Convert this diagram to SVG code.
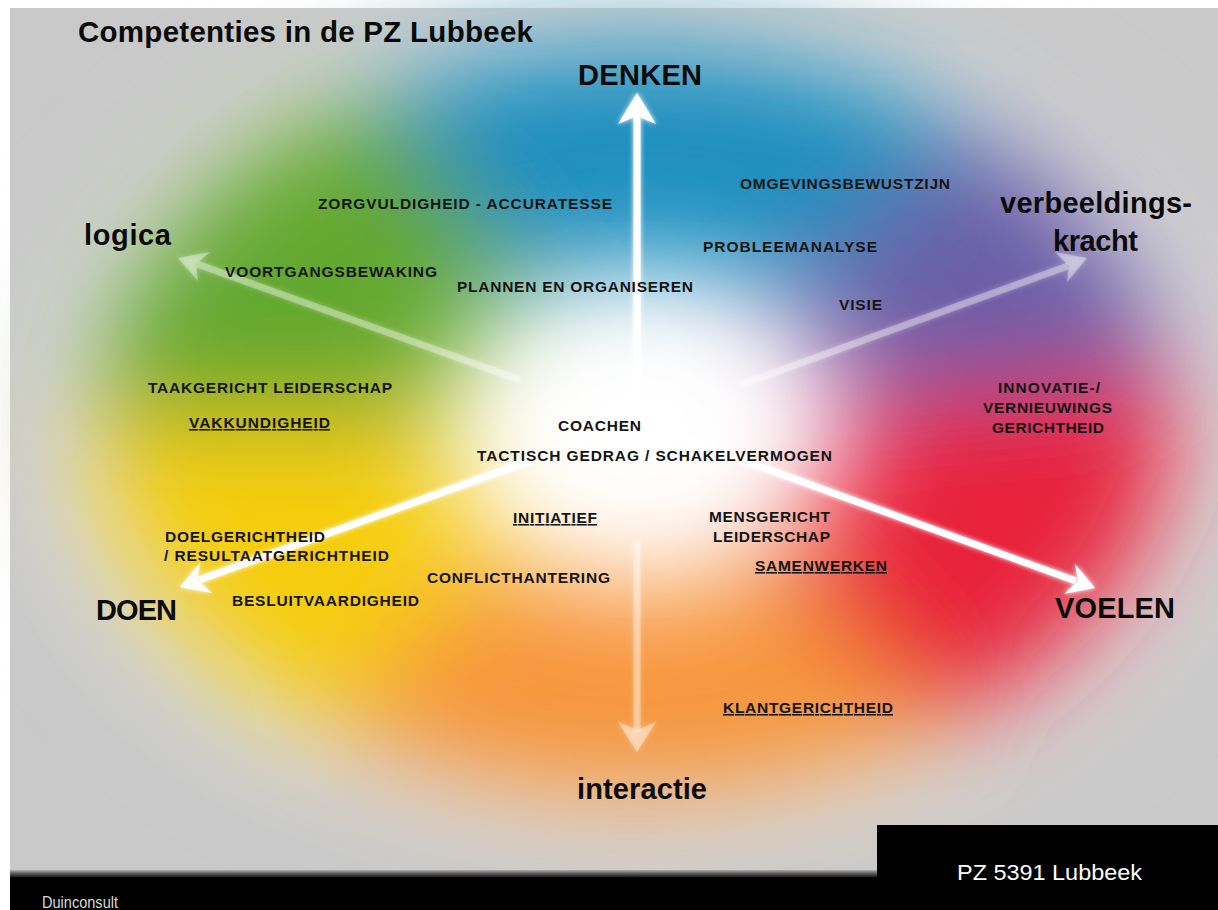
<svg xmlns="http://www.w3.org/2000/svg" width="1218" height="910" viewBox="0 0 1218 910">
<style>
.lbl{font-family:"Liberation Sans",Arial,sans-serif;font-weight:bold;font-size:15.5px;fill:#141414}
.u{text-decoration:underline}
.big{font-family:"Liberation Sans",Arial,sans-serif;font-weight:bold;font-size:29px;fill:#0a0a0a}
.shaft{stroke:#ffffff;stroke-width:7;fill:none}
</style>
<defs>
<filter id="blurBig" x="-30%" y="-30%" width="160%" height="160%"><feGaussianBlur stdDeviation="50"/></filter>
<filter id="blurCenter" x="-60%" y="-60%" width="220%" height="220%"><feGaussianBlur stdDeviation="60"/></filter>
<filter id="glow" x="-20%" y="-20%" width="140%" height="140%"><feGaussianBlur stdDeviation="2.5" result="b"/><feMerge><feMergeNode in="b"/><feMergeNode in="SourceGraphic"/></feMerge></filter>
<clipPath id="ell"><ellipse cx="635" cy="420" rx="540" ry="375"/></clipPath>
<linearGradient id="shadow" x1="0" y1="0" x2="0" y2="1"><stop offset="0" stop-color="#b0b0b0"/><stop offset="0.5" stop-color="#5a5a5a"/><stop offset="1" stop-color="#202020"/></linearGradient>
</defs>
<rect width="1218" height="910" fill="#ffffff"/>
<rect x="10" y="8" width="1208" height="866" fill="#c9c9c9"/>
<g id="wheel">
<ellipse cx="640" cy="425" rx="600" ry="415" fill="#dedede" filter="url(#blurBig)"/>
<g filter="url(#blurBig)">
<g clip-path="url(#ell)">
<path d="M635,420 L-265,420 L81,-289 Z" fill="#64a82e"/>
<path d="M635,420 L81,-289 L1325,-160 Z" fill="#1b8fbf"/>
<path d="M635,420 L1325,-160 L1530,340 Z" fill="#6a5fa8"/>
<path d="M635,420 L1530,340 L1271,1056 Z" fill="#e8213a"/>
<path d="M635,420 L1271,1056 L-1,1056 Z" fill="#f7953a"/>
<path d="M635,420 L-1,1056 L-265,420 Z" fill="#f6cd10"/>
</g>
</g>
<ellipse cx="645" cy="430" rx="200" ry="155" fill="#ffffff" filter="url(#blurCenter)"/>
<ellipse cx="640" cy="420" rx="130" ry="90" fill="#ffffff" filter="url(#blurCenter)"/>
</g>
<g id="connectors" filter="url(#glow)">
<line class="shaft" x1="637" y1="422" x2="637" y2="115"/>
<line class="shaft" x1="637" y1="422" x2="199" y2="580"/>
<line class="shaft" x1="637" y1="422" x2="1076" y2="581"/>
<g opacity="0.3">
<line class="shaft" x1="520" y1="380" x2="197" y2="264"/>
<line class="shaft" x1="740" y1="385" x2="1068" y2="266"/>
<line class="shaft" x1="637" y1="540" x2="637" y2="732"/>
</g>
</g>
<g id="arrowheads" filter="url(#glow)">
<path d="M637,93 L656,124 L637,116 L618,124 Z" fill="#ffffff"/>
<path d="M180,587 L200,563 L197,580 L212,593 Z" fill="#ffffff"/>
<path d="M1095,588 L1064,594 L1078,581 L1075,564 Z" fill="#ffffff"/>
<g opacity="0.35">
<path d="M178,258 L210,252 L196,264 L198,281 Z" fill="#ffffff"/>
<path d="M1087,258 L1067,282 L1069,266 L1055,252 Z" fill="#ffffff"/>
<path d="M637,752 L618,722 L637,730 L656,722 Z" fill="#ffffff"/>
</g>
</g>
<g id="title"><text x="78" y="42" font-family="Liberation Sans, Arial, sans-serif" font-weight="bold" font-size="29.5" fill="#0a0a0a" textLength="455">Competenties in de PZ Lubbeek</text></g>
<g id="n-denken"><text class="big" x="578" y="85" textLength="124">DENKEN</text></g>
<g id="n-logica"><text class="big" x="84" y="245" textLength="87">logica</text></g>
<g id="n-verbeelding"><text class="big" x="1000" y="213" textLength="192">verbeeldings-</text><text class="big" x="1053" y="251" textLength="85">kracht</text></g>
<g id="n-doen"><text class="big" x="96" y="620" textLength="81">DOEN</text></g>
<g id="n-voelen"><text class="big" x="1055" y="618" textLength="120">VOELEN</text></g>
<g id="n-interactie"><text class="big" x="577" y="799" textLength="130">interactie</text></g>
<g id="competencies">
<text class="lbl" x="318" y="209" textLength="294">ZORGVULDIGHEID - ACCURATESSE</text>
<text class="lbl" x="740" y="189" textLength="210">OMGEVINGSBEWUSTZIJN</text>
<text class="lbl" x="703" y="252" textLength="174">PROBLEEMANALYSE</text>
<text class="lbl" x="225" y="277" textLength="212">VOORTGANGSBEWAKING</text>
<text class="lbl" x="457" y="292" textLength="236">PLANNEN EN ORGANISEREN</text>
<text class="lbl" x="839" y="310" textLength="43">VISIE</text>
<text class="lbl" x="148" y="393" textLength="244">TAAKGERICHT LEIDERSCHAP</text>
<text class="lbl u" x="189" y="428" textLength="141">VAKKUNDIGHEID</text>
<text class="lbl" x="558" y="431" textLength="83">COACHEN</text>
<text class="lbl" x="477" y="461" textLength="355">TACTISCH GEDRAG / SCHAKELVERMOGEN</text>
<text class="lbl" x="998" y="393" textLength="102">INNOVATIE-/</text>
<text class="lbl" x="983" y="413" textLength="129">VERNIEUWINGS</text>
<text class="lbl" x="992" y="433" textLength="112">GERICHTHEID</text>
<text class="lbl u" x="513" y="523" textLength="84">INITIATIEF</text>
<text class="lbl" x="709" y="522" textLength="121">MENSGERICHT</text>
<text class="lbl" x="713" y="542" textLength="117">LEIDERSCHAP</text>
<text class="lbl u" x="755" y="571" textLength="132">SAMENWERKEN</text>
<text class="lbl" x="165" y="542" textLength="160">DOELGERICHTHEID</text>
<text class="lbl" x="164" y="561" textLength="225">/ RESULTAATGERICHTHEID</text>
<text class="lbl" x="427" y="583" textLength="183">CONFLICTHANTERING</text>
<text class="lbl" x="232" y="606" textLength="187">BESLUITVAARDIGHEID</text>
<text class="lbl u" x="723" y="713" textLength="170">KLANTGERICHTHEID</text>
</g>
<g id="footer">
<rect x="10" y="870" width="1208" height="7" fill="url(#shadow)"/>
<rect x="10" y="877" width="1208" height="33" fill="#000000"/>
<rect x="877" y="825" width="341" height="52" fill="#000000"/>
<text x="957" y="880" font-family="Liberation Sans, Arial, sans-serif" font-size="22" fill="#ffffff" textLength="185" lengthAdjust="spacingAndGlyphs">PZ 5391 Lubbeek</text>
<text x="42" y="908" font-family="Liberation Sans, Arial, sans-serif" font-size="16" fill="#d8d8d8" textLength="76" lengthAdjust="spacingAndGlyphs">Duinconsult</text>
</g>
</svg>
